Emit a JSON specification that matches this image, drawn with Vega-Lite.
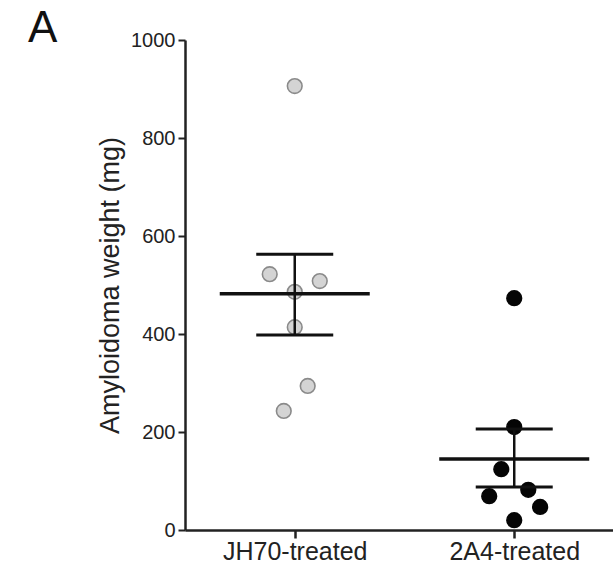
{
  "$schema": "https://vega.github.io/schema/vega-lite/v6.json",
  "width": 428,
  "height": 490,
  "autosize": {"type": "none"},
  "padding": {"left": 185, "top": 40, "right": 0, "bottom": 37},
  "background": "white",
  "title": {"text": "A", "anchor": "start", "frame": "group", "fontSize": 44, "font": "Liberation Sans", "fontWeight": "normal", "color": "#111", "dx": -157, "dy": 25},
  "config": {"view": {"stroke": null}, "font": "Liberation Sans"},
  "datasets": {
    "points": [
      {"group": "JH70-treated", "x": 1.0, "weight": 906},
      {"group": "JH70-treated", "x": 0.886, "weight": 522},
      {"group": "JH70-treated", "x": 1.114, "weight": 508},
      {"group": "JH70-treated", "x": 1.0, "weight": 486},
      {"group": "JH70-treated", "x": 1.0, "weight": 414},
      {"group": "JH70-treated", "x": 1.059, "weight": 294},
      {"group": "JH70-treated", "x": 0.95, "weight": 243},
      {"group": "2A4-treated", "x": 2.0, "weight": 473},
      {"group": "2A4-treated", "x": 2.0, "weight": 210},
      {"group": "2A4-treated", "x": 1.941, "weight": 124},
      {"group": "2A4-treated", "x": 2.064, "weight": 82},
      {"group": "2A4-treated", "x": 1.886, "weight": 69},
      {"group": "2A4-treated", "x": 2.118, "weight": 47},
      {"group": "2A4-treated", "x": 2.0, "weight": 20}
    ],
    "summary": [
      {"group": "JH70-treated", "x": 1, "mean": 482, "lo": 398, "hi": 563},
      {"group": "2A4-treated", "x": 2, "mean": 145, "lo": 88, "hi": 206}
    ]
  },
  "layer": [
    {
      "data": {"name": "points"},
      "mark": {"type": "point", "shape": "circle", "filled": true, "size": 215, "strokeWidth": 1.6, "opacity": 1},
      "encoding": {
        "x": {"field": "x", "type": "quantitative", "scale": {"domain": [0.5, 2.45], "nice": false, "zero": false},
          "axis": {"values": [1, 2], "labelExpr": "datum.value == 1 ? 'JH70-treated' : datum.value == 2 ? '2A4-treated' : ''", "title": null, "grid": false,
            "domainColor": "#222", "domainWidth": 2.5, "tickColor": "#222", "tickWidth": 2.5, "tickSize": 8,
            "labelFontSize": 25, "labelColor": "#222", "labelPadding": 1}},
        "y": {"field": "weight", "type": "quantitative", "scale": {"domain": [0, 1000], "nice": false},
          "axis": {"values": [0, 200, 400, 600, 800, 1000], "format": "d", "title": "Amyloidoma weight (mg)", "grid": false,
            "domainColor": "#222", "domainWidth": 2.5, "tickColor": "#222", "tickWidth": 2, "tickSize": 7,
            "labelFontSize": 20, "labelColor": "#222", "labelPadding": 3,
            "titleFontSize": 27, "titleFontWeight": "normal", "titleColor": "#222", "titlePadding": 6}},
        "fill": {"field": "group", "type": "nominal", "scale": {"domain": ["JH70-treated", "2A4-treated"], "range": ["#d4d4d4", "#050505"]}, "legend": null},
        "stroke": {"field": "group", "type": "nominal", "scale": {"domain": ["JH70-treated", "2A4-treated"], "range": ["#8a8a8a", "#050505"]}, "legend": null}
      }
    },
    {
      "data": {"name": "summary"},
      "mark": {"type": "rule", "color": "#111", "strokeWidth": 2.5},
      "encoding": {
        "x": {"field": "x", "type": "quantitative"},
        "y": {"field": "lo", "type": "quantitative"},
        "y2": {"field": "hi"}
      }
    },
    {
      "data": {"name": "summary"},
      "mark": {"type": "tick", "orient": "horizontal", "color": "#111", "size": 150, "thickness": 3.5, "opacity": 1},
      "encoding": {
        "x": {"field": "x", "type": "quantitative"},
        "y": {"field": "mean", "type": "quantitative"}
      }
    },
    {
      "data": {"name": "summary"},
      "mark": {"type": "tick", "orient": "horizontal", "color": "#111", "size": 77, "thickness": 3, "opacity": 1},
      "encoding": {
        "x": {"field": "x", "type": "quantitative"},
        "y": {"field": "hi", "type": "quantitative"}
      }
    },
    {
      "data": {"name": "summary"},
      "mark": {"type": "tick", "orient": "horizontal", "color": "#111", "size": 77, "thickness": 3, "opacity": 1},
      "encoding": {
        "x": {"field": "x", "type": "quantitative"},
        "y": {"field": "lo", "type": "quantitative"}
      }
    }
  ]
}
